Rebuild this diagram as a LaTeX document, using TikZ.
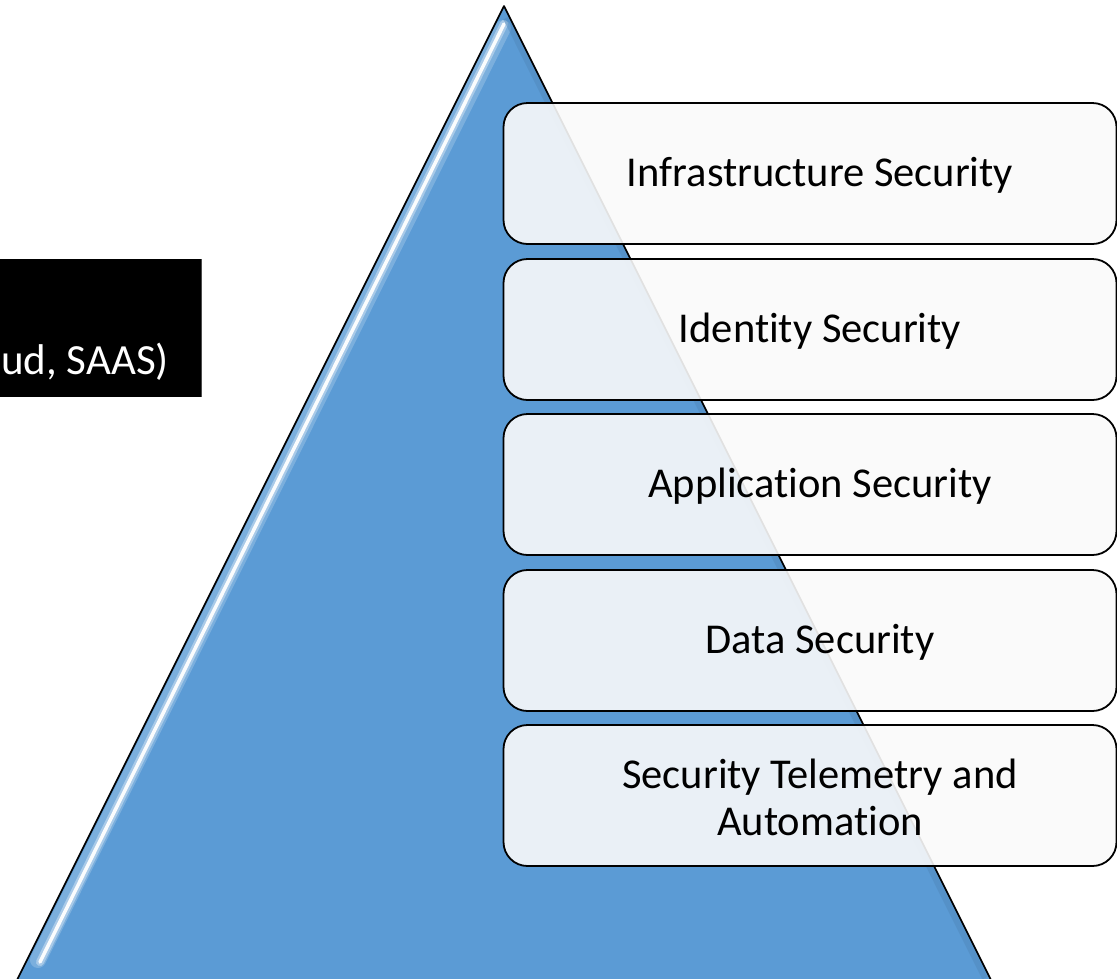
\documentclass[tikz,border=0pt]{standalone}
\usepackage{fontspec}
\setmainfont{Carlito}[Ligatures=NoCommon]
\begin{document}
\begin{tikzpicture}[x=1pt,y=-1pt,
  layerbox/.style={draw=black, line width=1.8pt, rounded corners=24pt,
    fill=white!98!black, fill opacity=0.9, minimum width=613pt, minimum height=141pt,
    inner sep=0pt, outer sep=0pt},
  layertext/.style={font=\fontsize{42.5}{47}\selectfont, text=black, align=center, inner sep=0pt},
  tagtext/.style={font=\fontsize{43}{47}\selectfont, text=white, inner sep=0pt}]
\definecolor{pyrblue}{HTML}{5B9BD5}
\useasboundingbox (0,0) rectangle (1117,978);
\begin{scope}
\clip (0,0) rectangle (1117,978);
% pyramid
\fill[pyrblue] (504,6) -- (16,982) -- (992,982) -- cycle;
\draw[white, line width=16pt, opacity=0.2, line cap=round] (503,28) -- (38,960);
\draw[white, line width=8pt, opacity=0.35, line cap=round] (504,24) -- (40,962);
\draw[white, line width=3.5pt, opacity=0.95, line cap=round] (504,24) -- (40,962);
\draw[pyrblue!85!black, line width=6pt, opacity=0.4] (506,18) -- (985,978);
\draw[black, line width=1.6pt, line join=round] (16,982) -- (504,6) -- (992,982);
% black tag
\fill[black] (-10,259) rectangle (201,397);
\draw[black!70, line width=0.8pt] (201,259) -- (201,397);
\node[tagtext, anchor=base east] (tag) at (169,374) {ud, SAAS)};
\end{scope}
% layer boxes
\node[layerbox] (b1) at (810,173.5) {};
\node[layerbox] (b2) at (810,329.5) {};
\node[layerbox] (b3) at (810,484.5) {};
\node[layerbox] (b4) at (810,640.5) {};
\node[layerbox] (b5) at (810,795.5) {};
\node[layertext] (t1) at ([xshift=10pt,yshift=-2pt]b1.center) {Infrastructure Security};
\node[layertext] (t2) at ([xshift=10pt,yshift=-2pt]b2.center) {Identity Security};
\node[layertext] (t3) at ([xshift=10pt,yshift=-2pt]b3.center) {Application Security};
\node[layertext] (t4) at ([xshift=10pt,yshift=-2pt]b4.center) {Data Security};
\node[layertext] (t5) at ([xshift=10pt,yshift=-2pt]b5.center) {Security Telemetry and\\Automation};
\end{tikzpicture}
\end{document}
